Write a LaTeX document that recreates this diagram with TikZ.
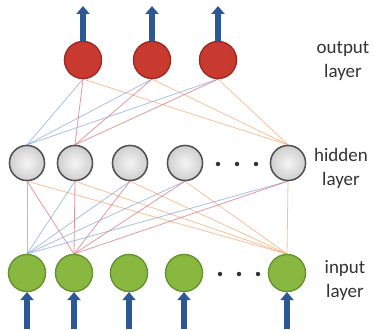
\documentclass[tikz,border=0pt]{standalone}
\usepackage{fontspec}
\setmainfont{Carlito}
\usetikzlibrary{arrows.meta}
\definecolor{outfill}{RGB}{200,58,48}
\definecolor{outedge}{RGB}{160,40,35}
\definecolor{hidedge}{RGB}{80,80,80}
\definecolor{infill}{RGB}{136,184,64}
\definecolor{inedge}{RGB}{100,145,45}
\definecolor{arrowblue}{RGB}{44,88,150}
\definecolor{wblue}{RGB}{130,165,215}
\definecolor{wred}{RGB}{210,110,120}
\definecolor{worange}{RGB}{245,165,110}
\tikzset{
  outneuron/.style={circle, minimum size=37pt, inner sep=0pt, fill=outfill, draw=outedge, line width=1.2pt},
  hidneuron/.style={circle, minimum size=35pt, inner sep=0pt, inner color=gray!8, outer color=gray!38, draw=hidedge, line width=1.4pt},
  inneuron/.style={circle, minimum size=37pt, inner sep=0pt, fill=infill, draw=inedge, line width=1.2pt},
  dotmark/.style={circle, fill=black!80, minimum size=4.5pt, inner sep=0pt},
  weight/.style={line width=0.8pt, opacity=0.7},
  signal/.style={line width=6pt, arrowblue, -{Triangle[width=13pt,length=8pt]}},
  layerlabel/.style={align=center, font=\fontsize{19}{24}\selectfont, text=black!80}
}
\begin{document}
\begin{tikzpicture}[x=1pt,y=-1pt]
\useasboundingbox (0,0) rectangle (374,329);

% output layer
\node[outneuron] (o1) at (83,60) {};
\node[outneuron] (o2) at (152,60) {};
\node[outneuron] (o3) at (218,60) {};

% hidden layer
\node[hidneuron] (h1) at (27,163) {};
\node[hidneuron] (h2) at (75,163) {};
\node[hidneuron] (h3) at (130,163) {};
\node[hidneuron] (h4) at (185,163) {};
\node[hidneuron] (h5) at (288,163) {};
\node[dotmark] (hd1) at (218,164) {};
\node[dotmark] (hd2) at (237,164) {};
\node[dotmark] (hd3) at (256,164) {};

% input layer
\node[inneuron] (i1) at (27,273) {};
\node[inneuron] (i2) at (74,273) {};
\node[inneuron] (i3) at (129,273) {};
\node[inneuron] (i4) at (184,273) {};
\node[inneuron] (i5) at (287,273) {};
\node[dotmark] (id1) at (220,274) {};
\node[dotmark] (id2) at (239,274) {};
\node[dotmark] (id3) at (258,274) {};

% weights: hidden -> output
\foreach \o in {o1,o2,o3}{
  \draw[weight, wblue] (h1.north) -- (\o.south);
  \draw[weight, wred] (h2.north) -- (\o.south);
  \draw[weight, worange] (h5.north) -- (\o.south);
}
% weights: input -> hidden
\foreach \h in {h1,h2,h3,h4,h5}{
  \draw[weight, wblue] (i1.north) -- (\h.south);
  \draw[weight, wred] (i2.north) -- (\h.south);
  \draw[weight, worange] (i5.north) -- (\h.south);
}

% redraw neurons above the weights
\node[outneuron] at (o1) {};
\node[outneuron] at (o2) {};
\node[outneuron] at (o3) {};
\foreach \h in {h1,h2,h3,h4,h5} \node[hidneuron] at (\h) {};
\foreach \i in {i1,i2,i3,i4,i5} \node[inneuron] at (\i) {};

% output signals
\coordinate (t1) at (83,6);
\coordinate (t2) at (152,6);
\coordinate (t3) at (218,6);
\draw[signal] (o1.north) -- (t1);
\draw[signal] (o2.north) -- (t2);
\draw[signal] (o3.north) -- (t3);

% input signals
\foreach \i/\x in {i1/27,i2/74,i3/129,i4/184,i5/287}{
  \coordinate (b\i) at (\x,329);
  \draw[signal] (b\i) -- (\i.south);
}

% layer labels
\node[layerlabel] (lo) at (343,61) {output\\layer};
\node[layerlabel] (lh) at (341,168) {hidden\\layer};
\node[layerlabel] (li) at (345,280) {input\\layer};
\end{tikzpicture}
\end{document}
